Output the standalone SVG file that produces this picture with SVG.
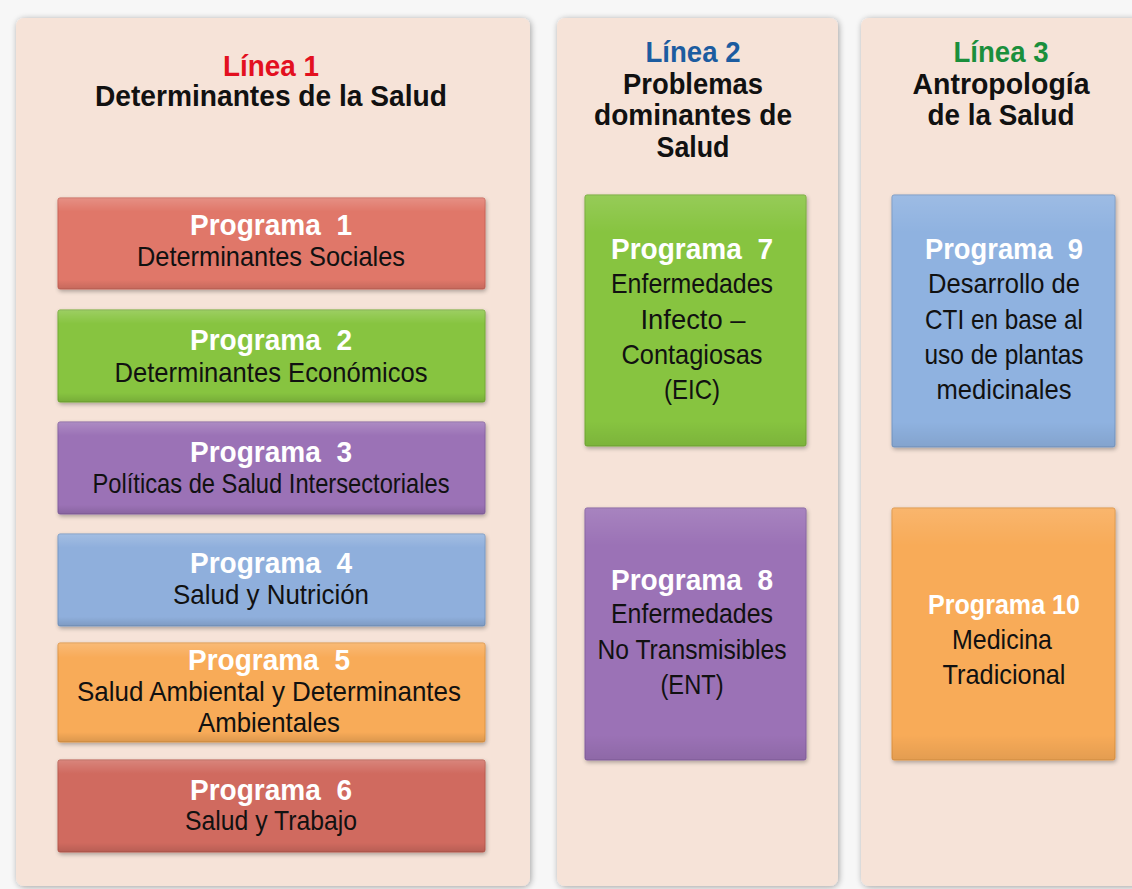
<svg xmlns="http://www.w3.org/2000/svg" width="1132" height="889" viewBox="0 0 1132 889">
<style>
  text { font-family: "Liberation Sans", Arial, sans-serif; text-anchor: middle; white-space: pre; }
  .ttl { font-size: 29px; font-weight: bold; fill: #111; }
  .pg { font-size: 29px; font-weight: bold; fill: #ffffff; }
  .tx { font-size: 28px; fill: #111; }
  .panel { fill: #f6e3d8; }
  .box { stroke-width: 1; }
</style>
<defs>
  <filter id="psh" x="-5%" y="-5%" width="110%" height="110%">
    <feGaussianBlur in="SourceAlpha" stdDeviation="3"/>
    <feOffset dx="1" dy="1"/>
    <feComponentTransfer><feFuncA type="linear" slope="0.35"/></feComponentTransfer>
    <feMerge><feMergeNode/><feMergeNode in="SourceGraphic"/></feMerge>
  </filter>
  <filter id="bsh" x="-5%" y="-10%" width="110%" height="120%">
    <feGaussianBlur in="SourceAlpha" stdDeviation="2"/>
    <feOffset dx="1" dy="2"/>
    <feComponentTransfer><feFuncA type="linear" slope="0.3"/></feComponentTransfer>
    <feMerge><feMergeNode/><feMergeNode in="SourceGraphic"/></feMerge>
  </filter>
  <linearGradient id="shine" x1="0" y1="0" x2="0" y2="1">
    <stop offset="0" stop-color="#ffffff" stop-opacity="0.18"/>
    <stop offset="0.15" stop-color="#ffffff" stop-opacity="0"/>
    <stop offset="0.9" stop-color="#000000" stop-opacity="0"/>
    <stop offset="1" stop-color="#000000" stop-opacity="0.12"/>
  </linearGradient>
</defs>
<rect x="0" y="0" width="1132" height="889" fill="#f7f7f7"/>

<g id="panels">
  <rect class="panel" x="16" y="18" width="514" height="868" rx="8" filter="url(#psh)"/>
  <rect class="panel" x="557" y="18" width="281" height="868" rx="8" filter="url(#psh)"/>
  <rect class="panel" x="861" y="18" width="280" height="868" rx="8" filter="url(#psh)"/>
</g>

<g id="linea1">
  <text class="ttl" x="271" y="76" style="fill:#e3101f" textLength="96" lengthAdjust="spacingAndGlyphs">Línea 1</text>
  <text class="ttl" x="271" y="106" textLength="352" lengthAdjust="spacingAndGlyphs">Determinantes de la Salud</text>
</g>
<g id="linea2">
  <text class="ttl" x="693" y="62" style="fill:#1c5ca0" textLength="95" lengthAdjust="spacingAndGlyphs">Línea 2</text>
  <text class="ttl" x="693" y="94" textLength="140" lengthAdjust="spacingAndGlyphs">Problemas</text>
  <text class="ttl" x="693" y="125" textLength="198" lengthAdjust="spacingAndGlyphs">dominantes de</text>
  <text class="ttl" x="693" y="157" textLength="73" lengthAdjust="spacingAndGlyphs">Salud</text>
</g>
<g id="linea3">
  <text class="ttl" x="1001" y="62" style="fill:#1a8f3c" textLength="95" lengthAdjust="spacingAndGlyphs">Línea 3</text>
  <text class="ttl" x="1001" y="94" textLength="177" lengthAdjust="spacingAndGlyphs">Antropología</text>
  <text class="ttl" x="1001" y="125" textLength="147" lengthAdjust="spacingAndGlyphs">de la Salud</text>
</g>

<g id="programa1">
  <rect class="box" x="58" y="198" width="427" height="91" rx="2" fill="#e07769" stroke="#c86458" filter="url(#bsh)"/>
  <rect x="58" y="198" width="427" height="91" rx="2" fill="url(#shine)"/>
  <text class="pg" x="271" y="235" textLength="162" lengthAdjust="spacingAndGlyphs">Programa  1</text>
  <text class="tx" x="271" y="266" textLength="268" lengthAdjust="spacingAndGlyphs">Determinantes Sociales</text>
</g>
<g id="programa2">
  <rect class="box" x="58" y="310" width="427" height="92" rx="2" fill="#87c440" stroke="#72aa34" filter="url(#bsh)"/>
  <rect x="58" y="310" width="427" height="92" rx="2" fill="url(#shine)"/>
  <text class="pg" x="271" y="350" textLength="162" lengthAdjust="spacingAndGlyphs">Programa  2</text>
  <text class="tx" x="271" y="382" textLength="313" lengthAdjust="spacingAndGlyphs">Determinantes Económicos</text>
</g>
<g id="programa3">
  <rect class="box" x="58" y="422" width="427" height="92" rx="2" fill="#9b72b6" stroke="#8460a0" filter="url(#bsh)"/>
  <rect x="58" y="422" width="427" height="92" rx="2" fill="url(#shine)"/>
  <text class="pg" x="271" y="462" textLength="162" lengthAdjust="spacingAndGlyphs">Programa  3</text>
  <text class="tx" x="271" y="493" textLength="357" lengthAdjust="spacingAndGlyphs">Políticas de Salud Intersectoriales</text>
</g>
<g id="programa4">
  <rect class="box" x="58" y="534" width="427" height="92" rx="2" fill="#8fafdc" stroke="#7698c4" filter="url(#bsh)"/>
  <rect x="58" y="534" width="427" height="92" rx="2" fill="url(#shine)"/>
  <text class="pg" x="271" y="573" textLength="162" lengthAdjust="spacingAndGlyphs">Programa  4</text>
  <text class="tx" x="271" y="604" textLength="196" lengthAdjust="spacingAndGlyphs">Salud y Nutrición</text>
</g>
<g id="programa5">
  <rect class="box" x="58" y="643" width="427" height="99" rx="2" fill="#f8ab58" stroke="#de9444" filter="url(#bsh)"/>
  <rect x="58" y="643" width="427" height="99" rx="2" fill="url(#shine)"/>
  <text class="pg" x="269" y="670" textLength="162" lengthAdjust="spacingAndGlyphs">Programa  5</text>
  <text class="tx" x="269" y="701" textLength="384" lengthAdjust="spacingAndGlyphs">Salud Ambiental y Determinantes</text>
  <text class="tx" x="269" y="732" textLength="142" lengthAdjust="spacingAndGlyphs">Ambientales</text>
</g>
<g id="programa6">
  <rect class="box" x="58" y="760" width="427" height="92" rx="2" fill="#d06b5e" stroke="#b85a4e" filter="url(#bsh)"/>
  <rect x="58" y="760" width="427" height="92" rx="2" fill="url(#shine)"/>
  <text class="pg" x="271" y="800" textLength="162" lengthAdjust="spacingAndGlyphs">Programa  6</text>
  <text class="tx" x="271" y="830" textLength="172" lengthAdjust="spacingAndGlyphs">Salud y Trabajo</text>
</g>

<g id="programa7">
  <rect class="box" x="585" y="195" width="221" height="251" rx="2" fill="#87c440" stroke="#72aa34" filter="url(#bsh)"/>
  <rect x="585" y="195" width="221" height="251" rx="2" fill="url(#shine)" opacity="0.7"/>
  <text class="pg" x="692" y="259" textLength="162" lengthAdjust="spacingAndGlyphs">Programa  7</text>
  <text class="tx" x="692" y="293" textLength="162" lengthAdjust="spacingAndGlyphs">Enfermedades</text>
  <text class="tx" x="693" y="329" textLength="105" lengthAdjust="spacingAndGlyphs">Infecto –</text>
  <text class="tx" x="692" y="364" textLength="141" lengthAdjust="spacingAndGlyphs">Contagiosas</text>
  <text class="tx" x="692" y="399" textLength="56" lengthAdjust="spacingAndGlyphs">(EIC)</text>
</g>
<g id="programa8">
  <rect class="box" x="585" y="508" width="221" height="252" rx="2" fill="#9b72b6" stroke="#8460a0" filter="url(#bsh)"/>
  <rect x="585" y="508" width="221" height="252" rx="2" fill="url(#shine)" opacity="0.7"/>
  <text class="pg" x="692" y="590" textLength="162" lengthAdjust="spacingAndGlyphs">Programa  8</text>
  <text class="tx" x="692" y="623" textLength="162" lengthAdjust="spacingAndGlyphs">Enfermedades</text>
  <text class="tx" x="692" y="659" textLength="189" lengthAdjust="spacingAndGlyphs">No Transmisibles</text>
  <text class="tx" x="692" y="694" textLength="63" lengthAdjust="spacingAndGlyphs">(ENT)</text>
</g>

<g id="programa9">
  <rect class="box" x="892" y="195" width="223" height="252" rx="2" fill="#8fb2e0" stroke="#7698c4" filter="url(#bsh)"/>
  <rect x="892" y="195" width="223" height="252" rx="2" fill="url(#shine)" opacity="0.7"/>
  <text class="pg" x="1004" y="259" textLength="158" lengthAdjust="spacingAndGlyphs">Programa  9</text>
  <text class="tx" x="1004" y="293" textLength="152" lengthAdjust="spacingAndGlyphs">Desarrollo de</text>
  <text class="tx" x="1004" y="329" textLength="158" lengthAdjust="spacingAndGlyphs">CTI en base al</text>
  <text class="tx" x="1004" y="364" textLength="159" lengthAdjust="spacingAndGlyphs">uso de plantas</text>
  <text class="tx" x="1004" y="399" textLength="135" lengthAdjust="spacingAndGlyphs">medicinales</text>
</g>
<g id="programa10">
  <rect class="box" x="892" y="508" width="223" height="252" rx="2" fill="#f8ab58" stroke="#de9444" filter="url(#bsh)"/>
  <rect x="892" y="508" width="223" height="252" rx="2" fill="url(#shine)" opacity="0.7"/>
  <text class="pg" x="1004" y="614" style="font-size:27px" textLength="152" lengthAdjust="spacingAndGlyphs">Programa 10</text>
  <text class="tx" x="1002" y="649" textLength="100" lengthAdjust="spacingAndGlyphs">Medicina</text>
  <text class="tx" x="1004" y="684" textLength="123" lengthAdjust="spacingAndGlyphs">Tradicional</text>
</g>

<g id="connectors"></g>
</svg>
